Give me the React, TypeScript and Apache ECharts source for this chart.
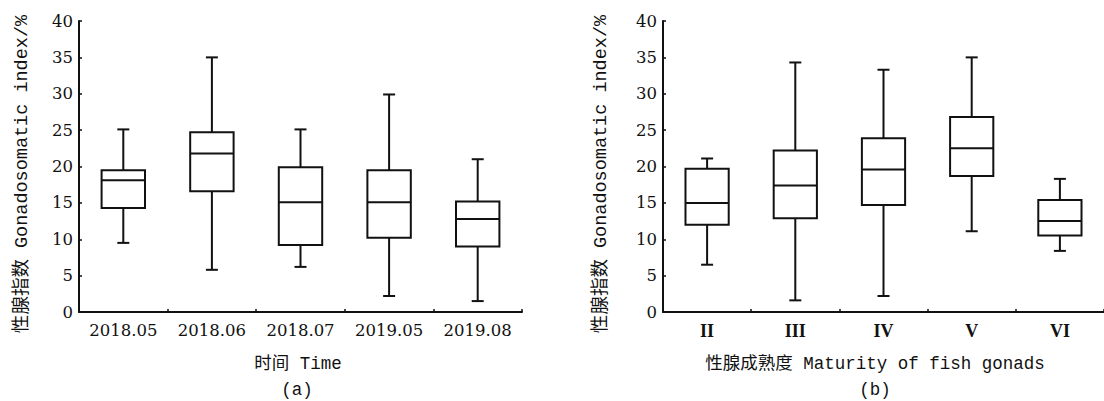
import React, { useEffect, useRef } from "react";
import * as echarts from "echarts";

// Chart (a): by sampling time
const catsA = ["2018.05", "2018.06", "2018.07", "2019.05", "2019.08"];
const lowA = [9.5, 5.8, 6.2, 2.2, 1.5];
const q1A = [14.3, 16.6, 9.2, 10.2, 9.0];
const medA = [18.1, 21.8, 15.1, 15.1, 12.8];
const q3A = [19.5, 24.7, 19.9, 19.5, 15.2];
const highA = [25.1, 35.0, 25.1, 29.9, 21.0];

// Chart (b): by gonad maturity stage
const catsB = ["II", "III", "IV", "V", "VI"];
const lowB = [6.5, 1.6, 2.2, 11.1, 8.4];
const q1B = [12.0, 12.9, 14.7, 18.7, 10.5];
const medB = [15.0, 17.4, 19.6, 22.5, 12.5];
const q3B = [19.7, 22.2, 23.9, 26.8, 15.4];
const highB = [21.1, 34.3, 33.3, 35.0, 18.3];

const yTicks = [0, 5, 10, 15, 20, 25, 30, 35, 40];

const yTitle = "性腺指数 Gonadosomatic index/%";
const xTitleA = "时间 Time";
const xTitleB = "性腺成熟度 Maturity of fish gonads";

const INK = "#111";
const MONO = "'Liberation Mono', 'Noto Sans CJK SC', monospace";
const SERIF = "'DejaVu Serif', serif";

function buildData(low: number[], q1: number[], med: number[], q3: number[], high: number[]) {
  return low.map((_, i) => [i, low[i], q1[i], med[i], q3[i], high[i]]);
}

const renderBox = (params: any, api: any) => {
  const x = api.value(0);
  const lo = api.coord([x, api.value(1)]);
  const q1 = api.coord([x, api.value(2)]);
  const md = api.coord([x, api.value(3)]);
  const q3 = api.coord([x, api.value(4)]);
  const hi = api.coord([x, api.value(5)]);
  const bw = api.size([1, 0])[0] * 0.49;
  const cx = lo[0];
  const cap = 6;
  const st = { stroke: INK, lineWidth: 2, fill: "none" };
  return {
    type: "group",
    children: [
      { type: "line", shape: { x1: cx, y1: hi[1], x2: cx, y2: q3[1] }, style: st },
      { type: "line", shape: { x1: cx, y1: q1[1], x2: cx, y2: lo[1] }, style: st },
      { type: "line", shape: { x1: cx - cap, y1: hi[1], x2: cx + cap, y2: hi[1] }, style: st },
      { type: "line", shape: { x1: cx - cap, y1: lo[1], x2: cx + cap, y2: lo[1] }, style: st },
      {
        type: "rect",
        shape: { x: cx - bw / 2, y: q3[1], width: bw, height: q1[1] - q3[1] },
        style: { stroke: INK, lineWidth: 2, fill: "#fff" },
      },
      { type: "line", shape: { x1: cx - bw / 2, y1: md[1], x2: cx + bw / 2, y2: md[1] }, style: st },
    ],
  };
};

function yAxisCfg(gridIndex: number) {
  return {
    gridIndex,
    type: "value",
    min: yTicks[0],
    max: yTicks[yTicks.length - 1],
    interval: 5,
    splitLine: { show: false },
    axisLine: { show: true, lineStyle: { color: INK, width: 2 } },
    axisTick: { show: true, inside: true, length: 3, lineStyle: { color: INK, width: 1.5 } },
    axisLabel: { color: INK, fontFamily: SERIF, fontSize: 16.5, margin: 6 },
  };
}

function xAxisCfg(gridIndex: number, cats: string[], roman: boolean) {
  return {
    gridIndex,
    type: "category",
    data: cats,
    boundaryGap: true,
    axisLine: { show: true, lineStyle: { color: INK, width: 2 } },
    axisTick: { show: true, inside: true, length: 3, lineStyle: { color: INK, width: 1.5 } },
    axisLabel: roman
      ? { color: INK, fontFamily: "'Liberation Serif', serif", fontWeight: "bold", fontSize: 18, margin: 10, interval: 0 }
      : { color: INK, fontFamily: SERIF, fontSize: 16.5, margin: 10, interval: 0 },
  };
}

export default function App() {
  const ref = useRef<HTMLDivElement>(null);
  useEffect(() => {
    if (!ref.current) return;
    const chart = echarts.init(ref.current, null, { renderer: "svg" });
    chart.setOption({
      animation: false,
      backgroundColor: "#fff",
      grid: [
        { left: 79, top: 21, width: 443, height: 291 },
        { left: 663, top: 21, width: 441, height: 291 },
      ],
      xAxis: [xAxisCfg(0, catsA, false), xAxisCfg(1, catsB, true)],
      yAxis: [yAxisCfg(0), yAxisCfg(1)],
      series: [
        {
          type: "custom",
          xAxisIndex: 0,
          yAxisIndex: 0,
          renderItem: renderBox,
          encode: { x: 0, y: [1, 2, 3, 4, 5] },
          data: buildData(lowA, q1A, medA, q3A, highA),
        },
        {
          type: "custom",
          xAxisIndex: 1,
          yAxisIndex: 1,
          renderItem: renderBox,
          encode: { x: 0, y: [1, 2, 3, 4, 5] },
          data: buildData(lowB, q1B, medB, q3B, highB),
        },
      ],
      graphic: [
        {
          type: "text",
          x: 22,
          y: 174,
          rotation: Math.PI / 2,
          style: { text: yTitle, fill: INK, font: `18.5px ${MONO}`, align: "center", verticalAlign: "middle" },
        },
        {
          type: "text",
          x: 601,
          y: 174,
          rotation: Math.PI / 2,
          style: { text: yTitle, fill: INK, font: `18.5px ${MONO}`, align: "center", verticalAlign: "middle" },
        },
        {
          type: "text",
          x: 298,
          y: 364,
          style: { text: xTitleA, fill: INK, font: `17.5px ${MONO}`, align: "center", verticalAlign: "middle" },
        },
        {
          type: "text",
          x: 297,
          y: 390,
          style: { text: "(a)", fill: INK, font: `17.5px ${MONO}`, align: "center", verticalAlign: "middle" },
        },
        {
          type: "text",
          x: 875,
          y: 364,
          style: { text: xTitleB, fill: INK, font: `17.5px ${MONO}`, align: "center", verticalAlign: "middle" },
        },
        {
          type: "text",
          x: 875,
          y: 390,
          style: { text: "(b)", fill: INK, font: `17.5px ${MONO}`, align: "center", verticalAlign: "middle" },
        },
      ],
    });
    return () => chart.dispose();
  }, []);
  return (
    <div
      ref={ref}
      style={{ position: "fixed", left: 0, top: 0, width: 1104, height: 401, background: "#fff" }}
    />
  );
}
